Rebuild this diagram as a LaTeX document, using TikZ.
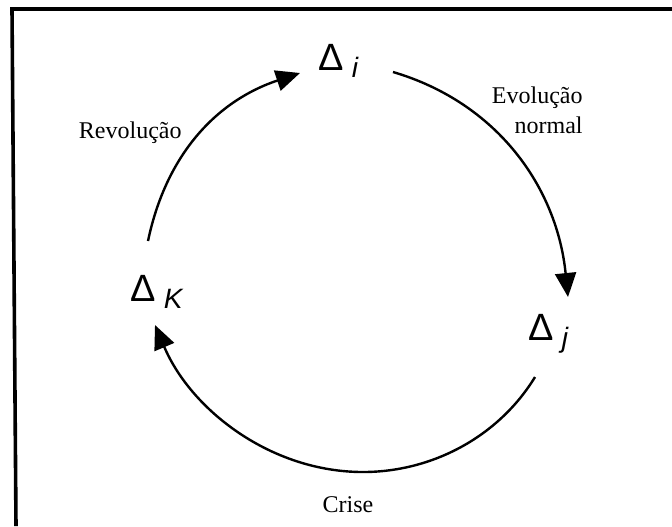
\documentclass[tikz,border=0pt]{standalone}
\usepackage{fontspec}
\setmainfont{Liberation Serif}
\newfontfamily\deltafont{Liberation Sans}
\usetikzlibrary{arrows.meta}
\newcommand{\estado}[1]{{\deltafont\fontsize{19}{19}\selectfont Δ}\hspace{4pt}\raisebox{-3.5pt}{\deltafont\itshape\fontsize{14}{14}\selectfont #1}}
\begin{document}
\begin{tikzpicture}[x=0.5pt,y=-0.5pt,
  estadonode/.style={inner sep=0pt,anchor=base west},
  rotulo/.style={inner sep=0pt,font=\fontsize{12}{15}\selectfont},
  ciclo/.style={line width=1.2pt,-{Triangle[length=12pt,width=10.5pt]}}]
\useasboundingbox (0,0) rectangle (672,526);
\draw[line width=1.8pt] (672,9)--(12,9)--(16,526);
\node[estadonode] (di) at (318,70) {\estado{i}};
\node[estadonode] (dj) at (528,340) {\estado{j}};
\node[estadonode] (dk) at (130,301) {\estado{K}};
\node[rotulo,anchor=base east] (rev) at (182,138) {Revolução};
\node[rotulo,anchor=east,align=right] (evo) at (583,110) {Evolução\\normal};
\node[rotulo,anchor=base] (cri) at (348,512) {Crise};
\draw[ciclo] ([shift={(18,-60)}]dk.base west) .. controls +(18,-86) and +(-84,28) .. ([shift={(-18,3)}]di.base west);
\draw[ciclo] ([shift={(75,2)}]di.base west) .. controls +(105,31) and +(-11,-109) .. ([shift={(40,-43)}]dj.base west);
\draw[ciclo] ([shift={(7,37)}]dj.base west) .. controls +(-36,59) and +(70,0) .. (363,472) .. controls +(-92,0) and +(36,85) .. ([shift={(25,24)}]dk.base west);
\end{tikzpicture}
\end{document}
